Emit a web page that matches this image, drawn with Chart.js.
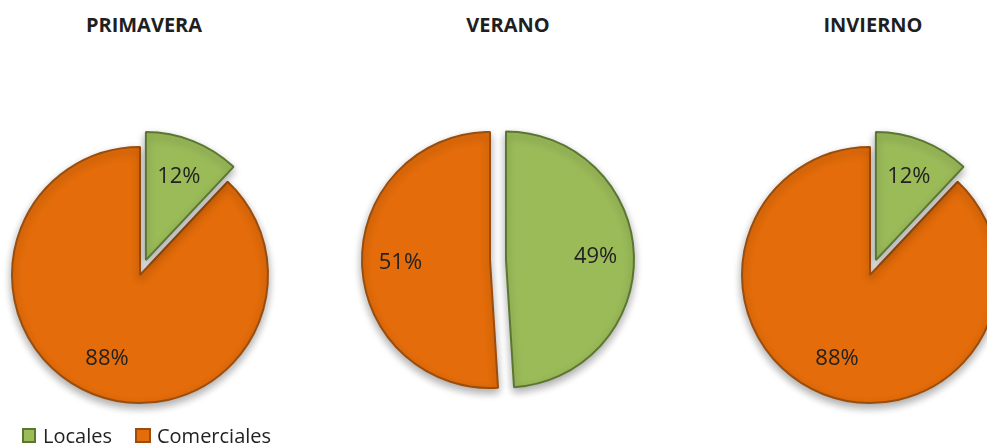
<!DOCTYPE html>
<html>
<head>
<meta charset="utf-8">
<script src="https://cdn.jsdelivr.net/npm/chart.js@4.4.1/dist/chart.umd.min.js"></script>
<style>
    html, body {
        margin: 0;
        padding: 0;
        background: #fff;
        width: 987px;
        height: 445px;
        overflow: hidden;
        position: relative;
        font-family: "Open Sans", sans-serif;
    }
    canvas { position: absolute; }
    .title {
        position: absolute;
        top: 11px;
        font-size: 20px;
        font-weight: bold;
        color: #1f1f1f;
        transform: translateX(-50%);
        white-space: nowrap;
    }
    #legend {
        position: absolute;
        left: 22px;
        top: 422px;
        display: flex;
        align-items: center;
        font-size: 20px;
        color: #222;
        z-index: 2;
    }
    .swatch {
        display: inline-block;
        width: 10px;
        height: 11px;
        border: 2px solid;
        margin-right: 7px;
    }
    .item { display: flex; align-items: center; margin-right: 23px; }
    .item:last-child .swatch { width: 12px; margin-right: 6px; }
</style>
</head>
<body>
<div id="legend"></div>

<script>
// Data
const categories = ["Locales", "Comerciales"];
const seasons = ["PRIMAVERA", "VERANO", "INVIERNO"];
const primavera = [12, 88];
const verano = [49, 51];
const invierno = [12, 88];
const seasonValues = [primavera, verano, invierno];

// Styles
const fillColors = ["#9bbb59", "#e46c0a"];
const borderColors = ["#5b7631", "#9a4d0c"];
const pieRadius = 128;
const explodePx = 16;      // only the "Locales" slice is pulled out
const labelRatio = 0.70;

// Pie centres and title centres on the page
const layout = [
    { cx: 140, cy: 275, titleX: 144 },
    { cx: 490, cy: 260, titleX: 508 },
    { cx: 870, cy: 275, titleX: 873 },
];
const canvasSize = 320;

function sliceShift(arc, i) {
    const p = arc.getProps(["startAngle", "endAngle"], true);
    const mid = (p.startAngle + p.endAngle) / 2;
    const d = i === 0 ? explodePx : 0;
    return { mid, dx: Math.cos(mid) * d, dy: Math.sin(mid) * d };
}

// Draw the slices ourselves so the first one can be moved out,
// orange first so the green slice casts its shadow on it
const explodedPie = {
    id: "explodedPie",
    beforeDatasetDraw(chart, args) {
        const ctx = chart.ctx;
        const arcs = args.meta.data;
        for (let i = arcs.length - 1; i >= 0; i--) {
            const s = sliceShift(arcs[i], i);
            ctx.save();
            ctx.shadowColor = "rgba(0,0,0,0.33)";
            ctx.shadowBlur = 9;
            ctx.shadowOffsetY = 4;
            ctx.translate(s.dx, s.dy);
            arcs[i].draw(ctx);
            ctx.restore();
        }
        return false;
    }
};

// Percentage labels inside slices
const pctLabels = {
    id: "pctLabels",
    afterDatasetsDraw(chart) {
        const ctx = chart.ctx;
        const meta = chart.getDatasetMeta(0);
        const values = chart.data.datasets[0].data;
        ctx.save();
        ctx.font = "22px 'Open Sans'";
        ctx.fillStyle = "#222";
        ctx.textAlign = "center";
        ctx.textBaseline = "middle";
        meta.data.forEach((arc, i) => {
            const p = arc.getProps(["x", "y", "outerRadius"], true);
            const s = sliceShift(arc, i);
            const r = p.outerRadius * labelRatio;
            ctx.fillText(values[i] + "%", p.x + s.dx + Math.cos(s.mid) * r, p.y + s.dy + Math.sin(s.mid) * r);
        });
        ctx.restore();
    }
};

// Build each pie
seasons.forEach((name, idx) => {
    const pos = layout[idx];

    const title = document.createElement("div");
    title.className = "title";
    title.style.left = pos.titleX + "px";
    title.textContent = name;
    document.body.appendChild(title);

    const canvas = document.createElement("canvas");
    canvas.width = canvasSize;
    canvas.height = canvasSize;
    canvas.style.left = (pos.cx - canvasSize / 2) + "px";
    canvas.style.top = (pos.cy - canvasSize / 2) + "px";
    document.body.appendChild(canvas);

    new Chart(canvas.getContext("2d"), {
        type: "pie",
        data: {
            labels: categories,
            datasets: [{
                data: seasonValues[idx],
                backgroundColor: fillColors,
                borderColor: borderColors,
                borderWidth: 2,
            }],
        },
        options: {
            responsive: false,
            animation: false,
            events: [],
            radius: pieRadius,
            layout: { padding: 0 },
            plugins: {
                legend: { display: false },
                tooltip: { enabled: false },
            },
        },
        plugins: [explodedPie, pctLabels],
    });
});

// Legend
const legendDiv = document.getElementById("legend");
categories.forEach((cat, i) => {
    const item = document.createElement("span");
    item.className = "item";
    item.innerHTML = `<span class="swatch" style="background:${fillColors[i]};border-color:${borderColors[i]}"></span>${cat}`;
    legendDiv.appendChild(item);
});
</script>
</body>
</html>
